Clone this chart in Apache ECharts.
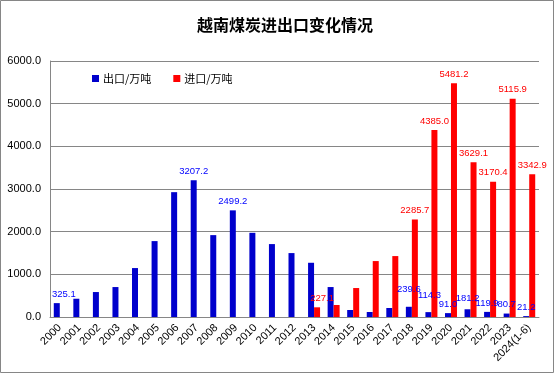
<!DOCTYPE html>
<html>
<head>
<meta charset="utf-8">
<script src="https://cdn.jsdelivr.net/npm/echarts@6/dist/echarts.min.js"></script>
<style>
html,body{margin:0;padding:0;background:#fff;}
#c{width:556px;height:374px;}
</style>
</head>
<body>
<div id="c"></div>
<script>
// ---- data ----
const titleText = '越南煤炭进出口变化情况';
const categories = ['2000','2001','2002','2003','2004','2005','2006','2007','2008','2009','2010','2011','2012','2013','2014','2015','2016','2017','2018','2019','2020','2021','2022','2023','2024(1-6)'];
const exportName = '出口/万吨';
const importName = '进口/万吨';
const exportValues = [325.1, 428, 585, 702, 1147, 1779, 2926, 3207.2, 1919, 2499.2, 1973, 1709, 1498, 1271, 702, 164, 117, 211, 239.6, 114.3, 91.0, 181.2, 119.9, 80.7, 21.2];
const importValues = [null, null, null, null, null, null, null, null, null, null, null, null, null, 227.1, 281, 679, 1311, 1428, 2285.7, 4385.0, 5481.2, 3629.1, 3170.4, 5115.9, 3342.9];
const exportLabelIdx = [0, 7, 9, 18, 19, 20, 21, 22, 23, 24];
const importLabelIdx = [13, 18, 19, 20, 21, 22, 23, 24];
const yTicks = [0, 1000, 2000, 3000, 4000, 5000, 6000];

// ---- styles (label offsets kept separate from data) ----
const exportLabelOffset = {0: [7, 0], 18: [0, -8], 19: [1, -8], 21: [0, -2]};
const importLabelOffset = {13: [5, 0]};

const BLUE = '#0000cc', RED = '#ff0000', GRAY = '#868686';
const labelFont = 'Liberation Sans';

// label-only points (drawn above all bars, like the source chart)
function buildLabels(vals, idxs, offs, color, dx) {
  return vals.map((v, i) => {
    const show = idxs.indexOf(i) >= 0 && v != null;
    const o = offs[i] || [0, 0];
    return {
      value: show ? v : null,
      label: {
        show: show,
        position: 'top',
        distance: 4,
        offset: [o[0] + dx, o[1]],
        color: color,
        fontSize: 9.5,
        fontFamily: labelFont,
        formatter: p => Number(p.value[1] !== undefined ? p.value[1] : p.value).toFixed(1)
      }
    };
  });
}

const chart = echarts.init(document.getElementById('c'), null, {renderer: 'canvas'});
chart.setOption({
  animation: false,
  backgroundColor: '#fff',
  title: {
    text: titleText,
    left: 197, top: 17, padding: 0,
    textStyle: {fontSize: 16, fontWeight: 'bold', color: '#000', fontFamily: 'Noto Sans CJK SC'}
  },
  legend: {
    left: 92, top: 73, padding: 0,
    itemWidth: 7, itemHeight: 7, itemGap: 22,
    icon: 'rect',
    textStyle: {fontSize: 11, color: '#000', fontFamily: 'Noto Sans CJK SC', padding: [0, 0, 0, -1]},
    data: [exportName, importName]
  },
  graphic: [{
    type: 'rect', silent: true,
    shape: {x: 0.5, y: 0.5, width: 553, height: 372},
    style: {fill: 'none', stroke: GRAY, lineWidth: 1}
  }],
  grid: {left: 50, right: 17, top: 61, bottom: 57, containLabel: false},
  xAxis: {
    type: 'category',
    data: categories,
    axisLine: {lineStyle: {color: GRAY}},
    axisTick: {show: false},
    axisLabel: {rotate: 45, interval: 0, fontSize: 11, color: '#000', fontFamily: labelFont, margin: 9}
  },
  yAxis: {
    type: 'value',
    min: yTicks[0], max: yTicks[yTicks.length - 1], interval: 1000,
    axisLine: {show: true, lineStyle: {color: GRAY}},
    axisTick: {show: false},
    splitLine: {lineStyle: {color: GRAY}},
    axisLabel: {fontSize: 11, color: '#000', fontFamily: labelFont, margin: 9, formatter: v => v.toFixed(1)}
  },
  series: [
    {name: exportName, type: 'bar', barWidth: 6, barGap: '0%', itemStyle: {color: BLUE}, data: exportValues},
    {name: importName, type: 'bar', barWidth: 6, barGap: '0%', itemStyle: {color: RED}, data: importValues},
    {name: exportName + '-lbl', type: 'scatter', silent: true, symbolSize: 0, z: 10,
     itemStyle: {opacity: 1, color: '#0000ff'},
     data: buildLabels(exportValues, exportLabelIdx, exportLabelOffset, '#0000ff', -3)},
    {name: importName + '-lbl', type: 'scatter', silent: true, symbolSize: 0, z: 10,
     itemStyle: {opacity: 1, color: RED},
     data: buildLabels(importValues, importLabelIdx, importLabelOffset, RED, 3)}
  ]
});
</script>
</body>
</html>
